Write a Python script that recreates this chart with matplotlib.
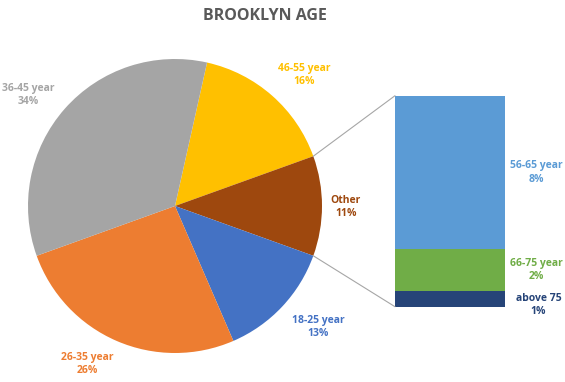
import matplotlib
matplotlib.use("Agg")
import matplotlib.pyplot as plt
from matplotlib.patches import ConnectionPatch
import numpy as np

plt.rcParams['font.family'] = ['Open Sans', 'DejaVu Sans']

# ---- data ----
title = "BROOKLYN AGE"
pie_labels = ["46-55 year", "Other", "18-25 year", "26-35 year", "36-45 year"]
pie_values = [16, 11, 13, 26, 34]
pie_colors = ["#FFC000", "#9E480E", "#4472C4", "#ED7D31", "#A5A5A5"]

bar_labels = ["above 75", "66-75 year", "56-65 year"]
bar_values = [0.8, 2.2, 8.0]
bar_colors = ["#264478", "#70AD47", "#5B9BD5"]

W, H = 565, 382
fig = plt.figure(figsize=(W / 100, H / 100), dpi=100)

# pie geometry (pixels, top-origin)
cx, cy, r = 175, 206, 147
ax = fig.add_axes([(cx - r) / W, (H - cy - r) / H, 2 * r / W, 2 * r / H])
other_idx = 1
start = 360 * (pie_values[0] + pie_values[other_idx] / 2) / sum(pie_values)
wedges, _ = ax.pie(pie_values, colors=pie_colors, startangle=start,
                   counterclock=False, radius=1.0,
                   wedgeprops=dict(linewidth=0))
ax.set_xlim(-1, 1)
ax.set_ylim(-1, 1)
ax.set_aspect('equal')
ax.axis('off')

# pie label positions (pixel centers)
pie_label_px = [(304, 75), (346, 207), (318, 327), (87, 364), (28, 95)]
tot = sum(pie_values)
for lab, v, c, (px, py) in zip(pie_labels, pie_values, pie_colors, pie_label_px):
    ax.text((px - cx) / r, (cy - py) / r, f"{lab}\n{round(100 * v / tot)}%",
            ha='center', va='center', color=c, fontsize=7.5, fontweight='bold',
            linespacing=1.3, clip_on=False)

# bar geometry (pixels, top-origin)
bx0, bx1, by0, by1 = 395, 504.5, 95.7, 306.7
bax = fig.add_axes([bx0 / W, (H - by1) / H, (bx1 - bx0) / W, (by1 - by0) / H])
bottom = 0
btot = sum(bar_values)
bar_label_x = [1.31, 1.29, 1.29]
for lab, v, c, lx in zip(bar_labels, bar_values, bar_colors, bar_label_x):
    bax.bar(0.5, v, width=1.0, bottom=bottom, color=c, linewidth=0)
    ymid = bottom + v / 2
    if lab == "above 75":
        ymid = bottom + 0.1
    bax.text(lx, ymid, f"{lab}\n{round(v)}%", ha='center', va='center',
             color=c, fontsize=7.5, fontweight='bold', linespacing=1.3,
             clip_on=False)
    bottom += v
bax.set_xlim(0, 1)
bax.set_ylim(0, btot)
bax.axis('off')

# connector lines
theta1 = np.deg2rad(start - 360 * pie_values[0] / tot)
theta2 = np.deg2rad(start - 360 * (pie_values[0] + pie_values[1]) / tot)
for th, yb in [(theta1, btot), (theta2, 0)]:
    con = ConnectionPatch(xyA=(np.cos(th), np.sin(th)), coordsA=ax.transData,
                          xyB=(0, yb), coordsB=bax.transData,
                          color="#A6A6A6", linewidth=0.8)
    fig.add_artist(con)

fig.text(265 / W, 1 - 16 / H, title, ha='center', va='center',
         fontsize=11.5, fontweight='bold', color='#595959')

fig.savefig("out.png", dpi=100, facecolor='white')
